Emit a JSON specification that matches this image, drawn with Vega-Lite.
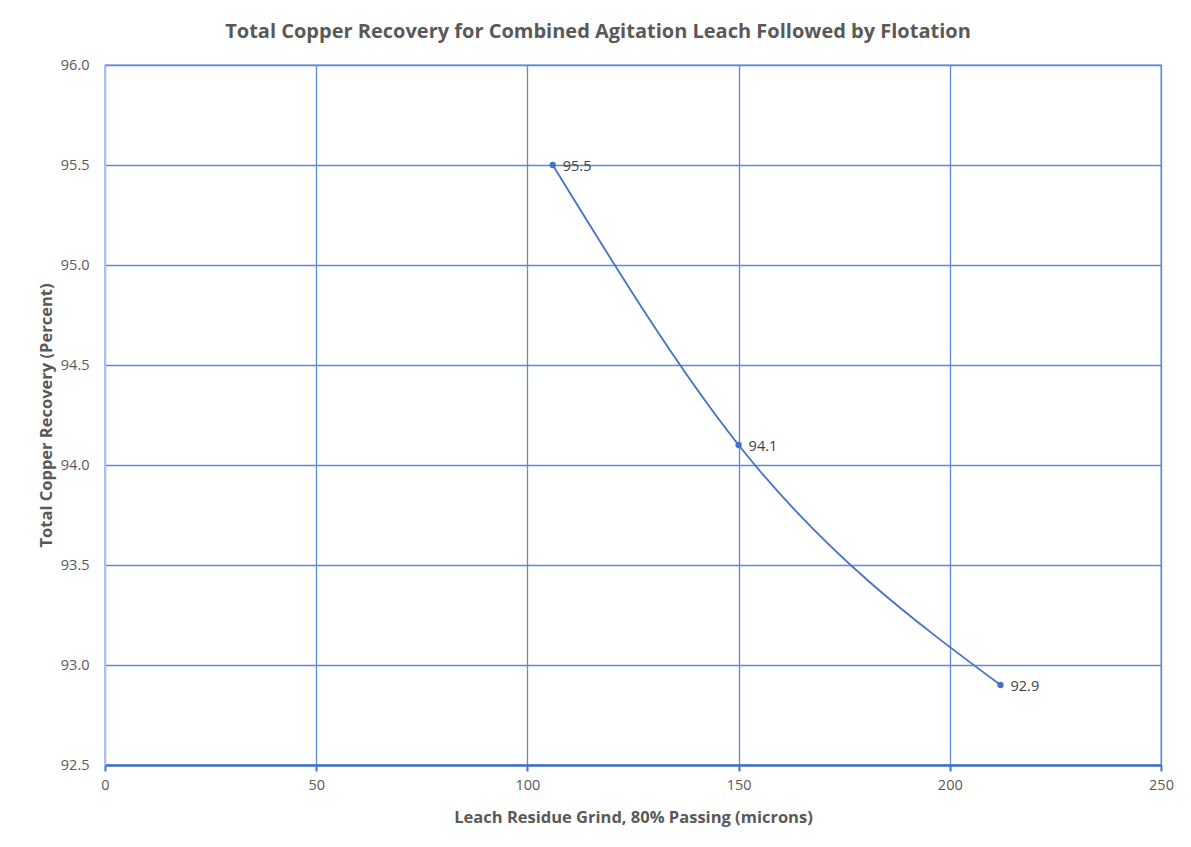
{
  "$schema": "https://vega.github.io/schema/vega-lite/v6.json",
  "autosize": "none",
  "width": 1056,
  "height": 700,
  "padding": {"left": 105, "top": 65, "right": 30, "bottom": 82},
  "background": "white",
  "title": {
    "text": "Total Copper Recovery for Combined Agitation Leach Followed by Flotation",
    "font": "Open Sans",
    "fontSize": 20,
    "fontWeight": "bold",
    "color": "#595959",
    "anchor": "middle",
    "dx": -35,
    "offset": 15
  },
  "data": {
    "values": [
      {"grind": 106, "recovery": 95.5},
      {"grind": 150, "recovery": 94.1},
      {"grind": 212, "recovery": 92.9}
    ]
  },
  "encoding": {
    "x": {
      "field": "grind",
      "type": "quantitative",
      "scale": {"domain": [0, 250], "nice": false, "zero": true},
      "axis": {
        "title": "Leach Residue Grind, 80% Passing (microns)",
        "values": [0, 50, 100, 150, 200, 250],
        "grid": true,
        "gridColor": "#5F88D8",
        "gridOpacity": 1,
        "gridWidth": 1.3,
        "domainColor": "#4472C4",
        "domainWidth": 2.5,
        "tickColor": "#4472C4",
        "tickWidth": 2,
        "tickSize": 6,
        "labelFlush": false,
        "labelPadding": 7,
        "labelFont": "Open Sans",
        "labelFontSize": 14.5,
        "labelColor": "#595959",
        "titleFont": "Open Sans",
        "titleFontSize": 16.5,
        "titleFontWeight": "bold",
        "titleColor": "#595959",
        "titlePadding": 18
      }
    },
    "y": {
      "field": "recovery",
      "type": "quantitative",
      "scale": {"domain": [92.5, 96], "nice": false, "zero": false},
      "axis": {
        "title": "Total Copper Recovery (Percent)",
        "values": [92.5, 93, 93.5, 94, 94.5, 95, 95.5, 96],
        "format": ".1f",
        "grid": true,
        "gridColor": "#5F88D8",
        "gridOpacity": 1,
        "gridWidth": 1.3,
        "domainColor": "#BFBFBF",
        "domainWidth": 1,
        "ticks": false,
        "labelFlush": false,
        "labelPadding": 16,
        "labelFont": "Open Sans",
        "labelFontSize": 14.5,
        "labelColor": "#595959",
        "titleFont": "Open Sans",
        "titleFontSize": 16.5,
        "titleFontWeight": "bold",
        "titleColor": "#595959",
        "titlePadding": 6
      }
    }
  },
  "layer": [
    {
      "mark": {"type": "line", "interpolate": "monotone", "color": "#4472C4", "strokeWidth": 1.8}
    },
    {
      "mark": {"type": "point", "filled": true, "opacity": 1, "color": "#4472C4", "size": 40}
    },
    {
      "mark": {"type": "text", "align": "left", "baseline": "middle", "dx": 10, "dy": 2, "font": "Open Sans", "fontSize": 14.5, "color": "#404040"},
      "encoding": {"text": {"field": "recovery", "type": "quantitative", "format": ".1f"}}
    }
  ],
  "config": {"view": {"stroke": "#5F88D8", "strokeWidth": 1.3}}
}
